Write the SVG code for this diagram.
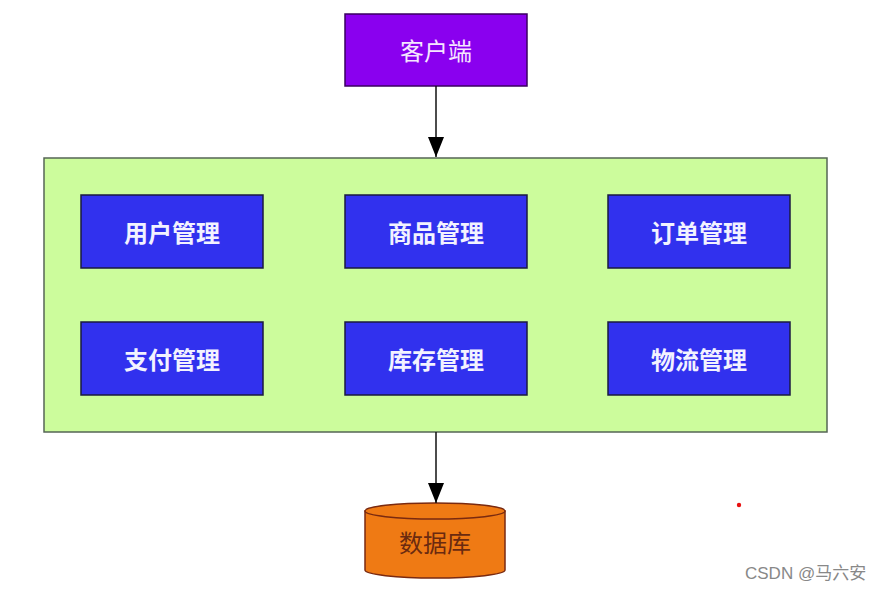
<svg xmlns="http://www.w3.org/2000/svg" width="891" height="591" viewBox="0 0 891 591">
<style>
.lbl{font-family:"Noto Sans CJK SC","Liberation Sans",sans-serif;font-size:24px;text-anchor:middle;dominant-baseline:central}
.mod rect{fill:#3131ee;stroke:#1a1a40;stroke-width:1.5}
.mod text{fill:#f2f2ff;font-weight:bold}
.conn line{stroke:#111;stroke-width:1.5}
</style>
<defs>
<marker id="ah" viewBox="0 0 20 16" refX="20" refY="8" markerWidth="20" markerHeight="16" markerUnits="userSpaceOnUse" orient="auto">
<path d="M0,0 L20,8 L0,16 Z" fill="#000"/>
</marker>
</defs>
<rect width="891" height="591" fill="#fff"/>
<g id="client">
<rect x="345" y="14" width="182" height="72" fill="#8a00ef" stroke="#3a0060" stroke-width="1.5"/>
<text class="lbl" x="436" y="49" fill="#f5e6ff">客户端</text>
</g>
<g id="backend">
<rect x="44" y="158" width="783" height="274" fill="#ccfc9c" stroke="#556655" stroke-width="1.5"/>
</g>
<g id="user" class="mod"><rect x="81" y="195" width="182" height="73"/><text class="lbl" x="172" y="231">用户管理</text></g>
<g id="goods" class="mod"><rect x="345" y="195" width="182" height="73"/><text class="lbl" x="436" y="231">商品管理</text></g>
<g id="order" class="mod"><rect x="608" y="195" width="182" height="73"/><text class="lbl" x="699" y="231">订单管理</text></g>
<g id="pay" class="mod"><rect x="81" y="322" width="182" height="73"/><text class="lbl" x="172" y="358">支付管理</text></g>
<g id="stock" class="mod"><rect x="345" y="322" width="182" height="73"/><text class="lbl" x="436" y="358">库存管理</text></g>
<g id="logistics" class="mod"><rect x="608" y="322" width="182" height="73"/><text class="lbl" x="699" y="358">物流管理</text></g>
<g id="db">
<path d="M365,511 L365,570 A70,8 0 0 0 505,570 L505,511 Z" fill="#ef7a14" stroke="#7a2a10" stroke-width="1.5"/>
<ellipse cx="435" cy="511" rx="70" ry="8" fill="#ef7a14" stroke="#7a2a10" stroke-width="1.5"/>
<text class="lbl" x="435" y="541" fill="#6a2a10">数据库</text>
</g>
<g class="conn" id="connectors">
<line x1="436" y1="86" x2="436" y2="157" marker-end="url(#ah)"/>
<line x1="436" y1="432" x2="436" y2="503" marker-end="url(#ah)"/>
</g>
<circle cx="739" cy="505" r="2.2" fill="#e81010"/>
<text x="745" y="579" font-family="Liberation Sans,'Noto Sans CJK SC',sans-serif" font-size="17" fill="#888">CSDN @马六安</text>
</svg>
